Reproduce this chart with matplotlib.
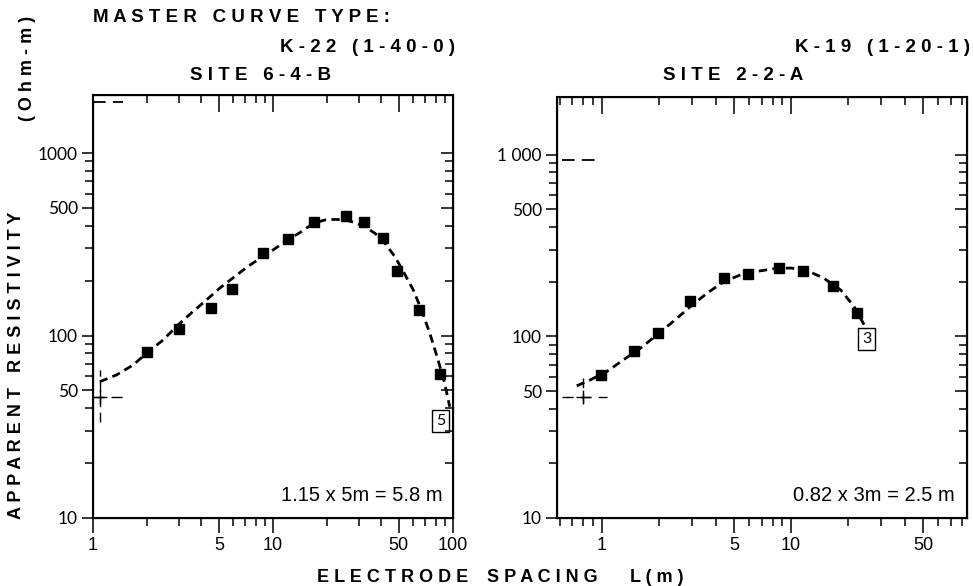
import matplotlib
matplotlib.use('Agg')
import matplotlib.pyplot as plt
from matplotlib.ticker import FixedLocator, FixedFormatter, NullFormatter

W, H = 973, 586

# site 6-4-B, K-22 (1-40-0): field points and master curve
left_x = [2.0, 3.0, 4.5, 5.9, 8.8, 12.1, 17.0, 25.3, 32.2, 41.0, 49.0, 64.9, 84.7]
left_y = [81.5, 108, 142, 180, 282, 339, 419, 452, 421, 341, 226, 138, 61.2]
left_curve_x = [1.09, 1.35, 1.67, 1.98, 2.45, 2.96, 3.58, 4.25, 5.03, 5.96, 7.21, 8.73,
                10.3, 12.0, 13.9, 16.8, 19.5, 22.2, 25.2, 28.6, 32.5, 36.9, 41.9, 47.6,
                53.0, 60.1, 66.8, 74.3, 82.6, 89.9, 95.9]
left_curve_y = [55.8, 60.8, 68.9, 79.9, 94.5, 114, 135, 156, 181, 206, 238, 270,
                300, 334, 363, 412, 430, 433, 430, 415, 394, 363, 320, 270,
                224, 178, 138, 103, 73.4, 54.7, 40.7]
left_cross = (1.09, 46.0)
left_cross_h = [1.0, 1.465]
left_cross_v = [33.6, 64.8]
left_top = 1904
left_top_x = [1.0, 1.465]
left_box = (85.3, 34.0, '5')
left_note = '1.15 x 5m = 5.8 m'

# site 2-2-A, K-19 (1-20-1)
right_x = [0.988, 1.48, 1.97, 2.94, 4.41, 5.93, 8.62, 11.5, 16.6, 22.4]
right_y = [61.4, 83.2, 105, 156, 209, 220, 238, 230, 190, 134]
right_curve_x = [0.737, 0.867, 1.06, 1.30, 1.60, 1.96, 2.39, 2.94, 3.60, 4.41, 5.40,
                 6.62, 8.11, 9.94, 12.2, 14.9, 18.3, 21.5, 24.3]
right_curve_y = [53.4, 57.5, 63.9, 74.2, 86.1, 102, 121, 146, 173, 200, 218,
                 228, 236, 238, 230, 209, 180, 146, 116]
right_cross = (0.796, 46.4)
right_cross_h = [0.617, 1.067]
right_cross_v = [43.0, 59.8]
right_top = 939
right_top_x = [0.617, 0.956]
right_box = (25.1, 96.8, '3')
right_note = '0.82 x 3m = 2.5 m'

YLIM = (10, 2080)
y_major = [10, 50, 100, 500, 1000]
y_minor = [20, 30, 40, 60, 70, 80, 90, 200, 300, 400, 600, 700, 800, 900]
x_minor_all = [0.6, 0.7, 0.8, 0.9, 2, 3, 4, 6, 7, 8, 9, 20, 30, 40, 60, 70, 80, 90]

BOLD = ['Liberation Sans', 'DejaVu Sans']
TICKF = ['Lato', 'DejaVu Sans']
NARROW = ['Liberation Sans Narrow', 'Liberation Sans', 'DejaVu Sans']


def spaced(s):
    return ' '.join(s)


def setup(ax, xlim, xmajor, xlabels, ylabels):
    ax.set_xscale('log')
    ax.set_yscale('log')
    ax.set_xlim(xlim)
    ax.set_ylim(YLIM)
    xminor = [v for v in x_minor_all if xlim[0] <= v <= xlim[1]]

    ax.xaxis.set_major_locator(FixedLocator(xmajor))
    ax.xaxis.set_major_formatter(FixedFormatter(xlabels))
    ax.xaxis.set_minor_locator(FixedLocator(xminor))
    ax.xaxis.set_minor_formatter(NullFormatter())
    ax.yaxis.set_major_locator(FixedLocator(y_major))
    ax.yaxis.set_major_formatter(FixedFormatter(ylabels))
    ax.yaxis.set_minor_locator(FixedLocator(y_minor))
    ax.yaxis.set_minor_formatter(NullFormatter())

    ax.tick_params(axis='x', which='major', direction='out', length=11, width=1.1,
                   pad=3, labelsize=13)
    ax.tick_params(axis='x', which='minor', direction='out', length=6, width=1.1)
    ax.tick_params(axis='y', which='major', direction='out', length=8, width=1.1,
                   pad=3, labelsize=12.5)
    ax.tick_params(axis='y', which='minor', direction='out', length=5.5, width=1.1)
    for lab in ax.get_xticklabels():
        lab.set_family(NARROW)
    for lab in ax.get_yticklabels():
        lab.set_family(TICKF)
    for sp in ax.spines.values():
        sp.set_linewidth(1.5)

    # top ticks point into the box
    top = ax.twiny()
    top.set_xscale('log')
    top.set_xlim(xlim)
    top.xaxis.set_major_locator(FixedLocator(xmajor))
    top.xaxis.set_minor_locator(FixedLocator(xminor))
    top.xaxis.set_major_formatter(NullFormatter())
    top.xaxis.set_minor_formatter(NullFormatter())
    top.tick_params(axis='x', which='major', direction='in', length=12, width=1.1)
    top.tick_params(axis='x', which='minor', direction='in', length=6, width=1.1)

    # right ticks point into the box as well
    right = ax.twinx()
    right.set_yscale('log')
    right.set_ylim(YLIM)
    right.yaxis.set_major_locator(FixedLocator(y_major))
    right.yaxis.set_minor_locator(FixedLocator(y_minor))
    right.yaxis.set_major_formatter(NullFormatter())
    right.yaxis.set_minor_formatter(NullFormatter())
    right.tick_params(axis='y', which='major', direction='in', length=9, width=1.1)
    right.tick_params(axis='y', which='minor', direction='in', length=6, width=1.1)


def draw(ax, px, py, cx, cy, cross, ch, cv, topy, topx, box, note):
    ax.plot(cx, cy, color='black', lw=2.0, linestyle=(0, (3.0, 1.9)), zorder=3)
    ax.plot(px, py, 's', color='black', ms=7, zorder=4)
    # master curve origin cross
    ax.plot(ch, [cross[1], cross[1]], color='black', lw=1.0, linestyle=(0, (8, 5)))
    ax.plot([cross[0], cross[0]], cv, color='black', lw=1.0, linestyle=(0, (7, 4)))
    ax.plot([cross[0]], [cross[1]], '+', color='black', ms=10, mew=1.0)
    # asymptote marks
    ax.plot(topx, [topy, topy], color='black', lw=1.3, linestyle=(0, (7, 4)))
    ax.text(box[0], box[1], box[2], ha='center', va='center', fontsize=11.5,
            family=TICKF, zorder=5,
            bbox=dict(boxstyle='square,pad=0.25', fc='white', ec='black', lw=1.0))
    ax.text(0.97, 0.054, note, transform=ax.transAxes, ha='right', va='center',
            fontsize=14.5, family=NARROW)


fig = plt.figure(figsize=(W / 100, H / 100), dpi=100)

ax1 = fig.add_axes([93 / W, 1 - 518 / H, 360 / W, 423 / H])
setup(ax1, (1, 100), [1, 5, 10, 50, 100], ['1', '5', '10', '50', '100'],
      ['10', '50', '100', '500', '1000'])
draw(ax1, left_x, left_y, left_curve_x, left_curve_y, left_cross, left_cross_h,
     left_cross_v, left_top, left_top_x, left_box, left_note)

ax2 = fig.add_axes([557 / W, 1 - 518 / H, 410 / W, 421 / H])
setup(ax2, (0.58, 85), [1, 5, 10, 50], ['1', '5', '10', '50'],
      ['10', '50', '100', '500', '1 000'])
draw(ax2, right_x, right_y, right_curve_x, right_curve_y, right_cross, right_cross_h,
     right_cross_v, right_top, right_top_x, right_box, right_note)


def ftext(x, y, s, size=13.5, **kw):
    fig.text(x / W, 1 - y / H, s, fontweight='bold', family=BOLD, fontsize=size, **kw)


ftext(93, 18, spaced('MASTER CURVE TYPE:'), ha='left', va='center')
ftext(455, 47, spaced('K-22 (1-40-0)'), ha='right', va='center')
ftext(261, 75, spaced('SITE 6-4-B'), ha='center', va='center')
ftext(970, 47, spaced('K-19 (1-20-1)'), ha='right', va='center')
ftext(733, 75, spaced('SITE 2-2-A'), ha='center', va='center')

ftext(317, 577, spaced('ELECTRODE'), ha='left', va='center', size=13)
ftext(487, 577, spaced('SPACING'), ha='left', va='center', size=13)
ftext(630, 577, spaced('L(m)'), ha='left', va='center', size=13)

ftext(17, 365, spaced('APPARENT RESISTIVITY'), ha='center', va='center', rotation=90,
      size=13)
ftext(28, 68, spaced('(Ohm-m)'), ha='center', va='center', rotation=90, size=13)

fig.savefig('out.png', dpi=100)
